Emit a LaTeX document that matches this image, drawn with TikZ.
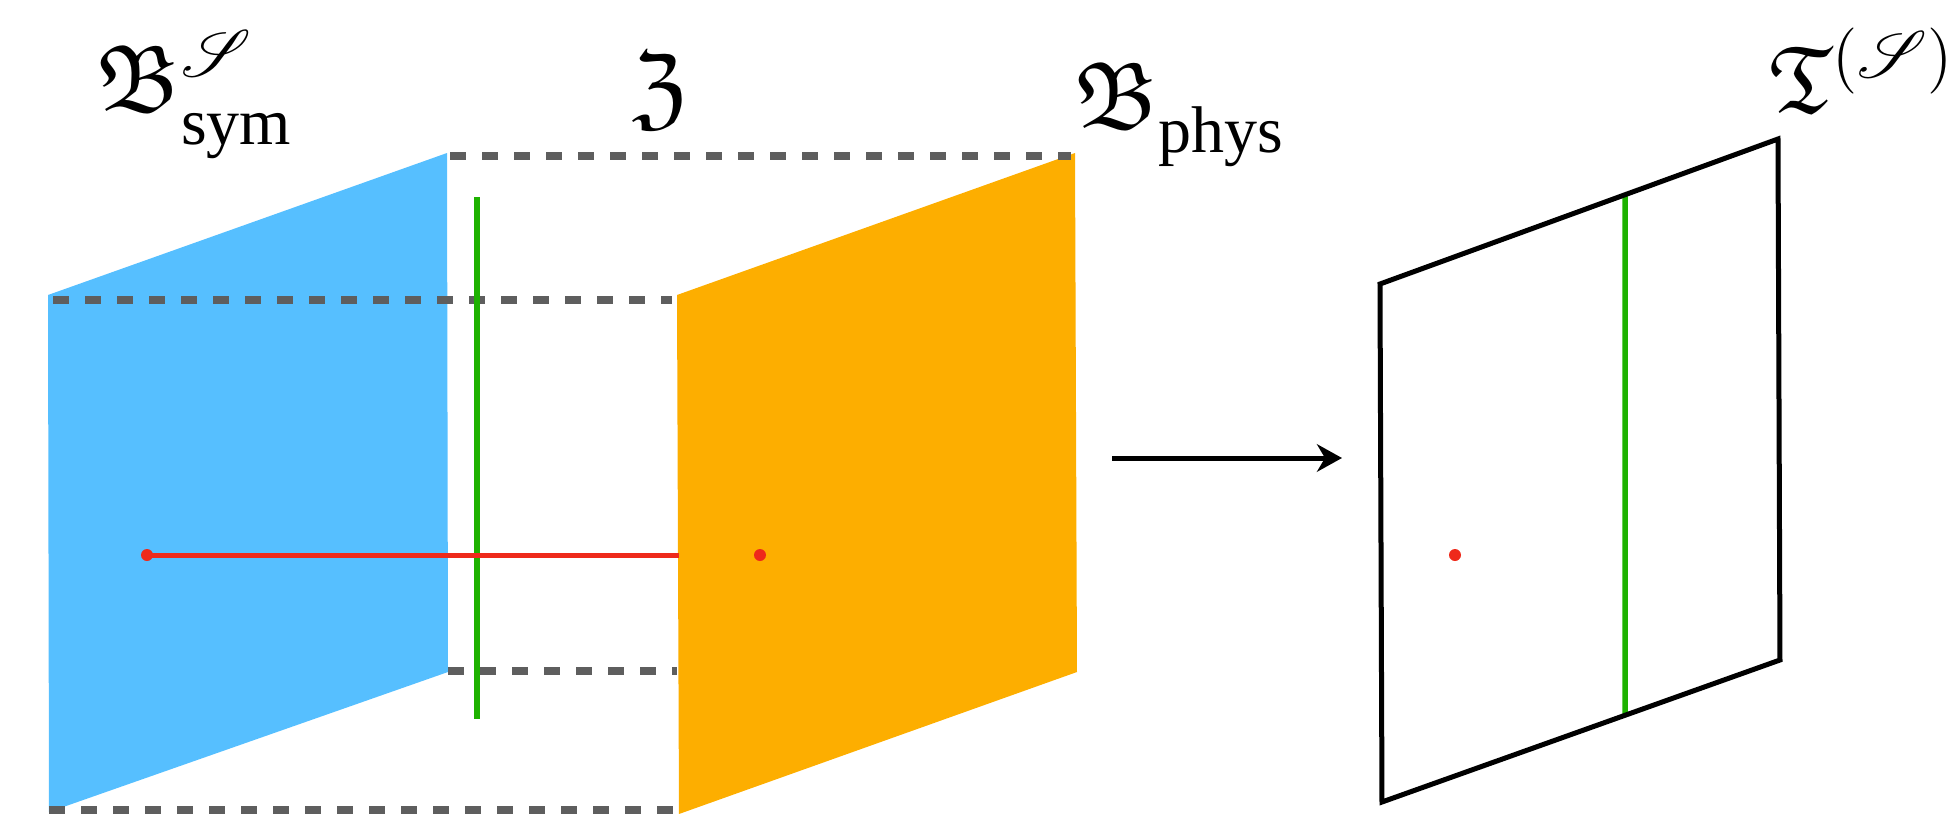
\documentclass[tikz,border=0pt]{standalone}
\usepackage{amsmath,amssymb}
\usepackage{mathrsfs}
\usepackage{graphicx}
\usepackage{fontspec}
\setmainfont{Liberation Serif}
\usetikzlibrary{arrows.meta,calc}
\definecolor{symblue}{RGB}{86,191,255}
\definecolor{physorange}{RGB}{253,174,0}
\definecolor{lgreen}{RGB}{30,178,0}
\definecolor{dotred}{RGB}{238,42,27}
\definecolor{dashgray}{RGB}{94,94,94}
\newcommand{\lbltext}[1]{\scalebox{1.1}{\fontsize{17.28}{21}\selectfont #1}}
\newcommand{\lowsub}[1]{\raisebox{-1.8pt}{$\scriptstyle\text{#1}$}}
\begin{document}
\begin{tikzpicture}[x=0.2pt,y=-0.2pt,
  dashline/.style={draw=dashgray, line width=1.6pt, dash pattern=on 3.2pt off 3.2pt},
  greenline/.style={draw=lgreen, line width=1.1pt},
  redline/.style={draw=dotred, line width=1pt},
  reddot/.style={fill=dotred},
  frame/.style={draw=black, line width=1pt, line join=miter},
  label/.style={inner sep=0pt, anchor=base west}
]
\useasboundingbox (0,0) rectangle (1952,814);
% blue plane
\coordinate (b1) at (48,295);
\coordinate (b2) at (447,153);
\coordinate (b3) at (448,672);
\coordinate (b4) at (49,812);
% orange plane
\coordinate (o1) at (677,295);
\coordinate (o2) at (1075,153);
\coordinate (o3) at (1077,672);
\coordinate (o4) at (679,814);
\fill[symblue] (b1)--(b2)--(b3)--(b4)--cycle;
\fill[physorange] (o1)--(o2)--(o3)--(o4)--cycle;
% dashed lines
\coordinate (d1a) at (450,156); \coordinate (d1b) at (1071,156);
\coordinate (d2a) at (53,300);  \coordinate (d2b) at (672,300);
\coordinate (d3a) at (448,671); \coordinate (d3b) at (677,671);
\coordinate (d4a) at (49,810);  \coordinate (d4b) at (674,810);
\draw[dashline] (d1a)--(d1b);
\draw[dashline] (d2a)--(d2b);
\draw[dashline] (d3a)--(d3b);
\draw[dashline] (d4a)--(d4b);
% green line (left)
\coordinate (g1) at (477,197); \coordinate (g2) at (477,719);
\draw[greenline] (g1)--(g2);
% red line and dots
\coordinate (r1) at (147,555); \coordinate (r2) at (679,555);
\coordinate (r3) at (760,555);
\draw[redline] (r1)--(r2);
\fill[reddot] (r1) circle[radius=1.2pt];
\fill[reddot] (r3) circle[radius=1.2pt];
% right panel
\coordinate (p1) at (1380,284);
\coordinate (p2) at (1778,139);
\coordinate (p3) at (1780,660);
\coordinate (p4) at (1382,802);
\coordinate (r4) at (1455,555);
\draw[greenline] ($(p1)!0.6156!(p2)$) -- ($(p4)!0.6106!(p3)$);
\draw[frame] (p1)--(p2)--(p3)--(p4)--cycle;
\fill[reddot] (r4) circle[radius=1.2pt];
% arrow
\coordinate (a1) at (1112,458); \coordinate (a2) at (1342,458);
\draw[line width=1pt, -{Stealth[length=5pt,width=5.5pt,inset=1.6pt]}] (a1)--(a2);
% labels
\node[label] (Bsym) at (96,111) {\lbltext{$\mathfrak{B}^{\mathscr{S}}_{\lowsub{sym}}$}};
\node[label] (Z) at (631,118) {\lbltext{$\mathfrak{Z}$}};
\node[label] (Bphys) at (1073,128) {\lbltext{$\mathfrak{B}_{\lowsub{phys}}$}};
\node[label] (T) at (1768,112) {\lbltext{$\mathfrak{T}^{(\mathscr{S})}$}};
\end{tikzpicture}
\end{document}
